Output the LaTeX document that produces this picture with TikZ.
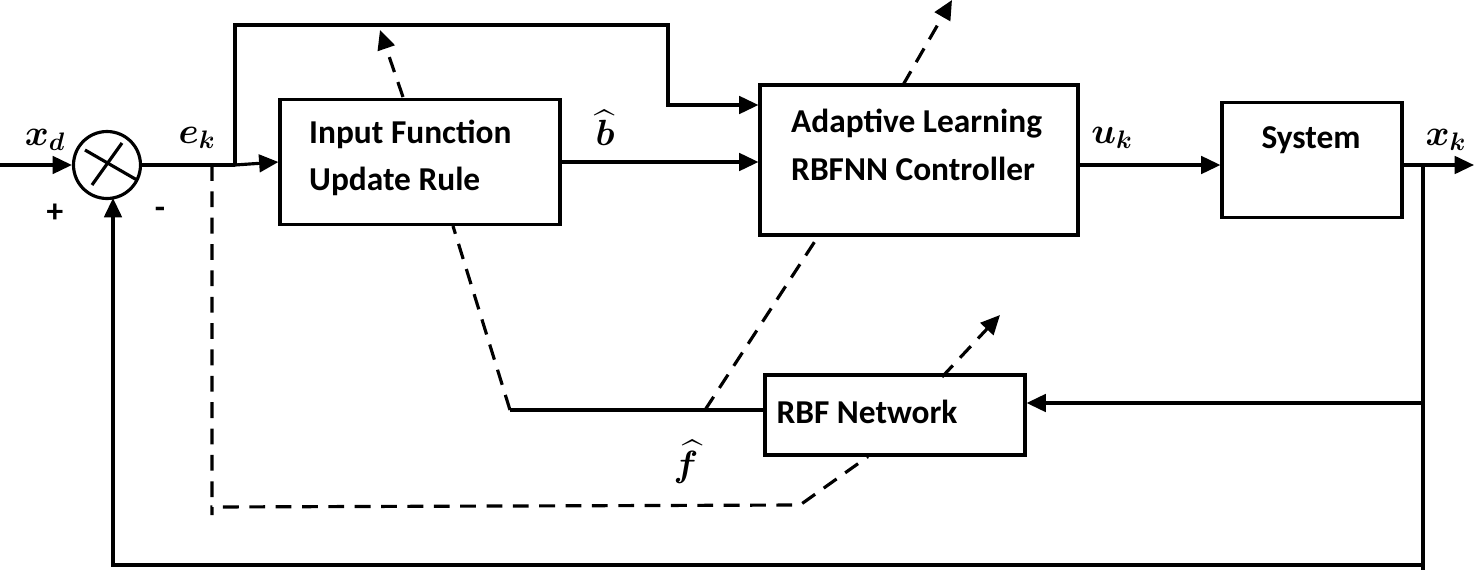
\documentclass[tikz,border=0pt]{standalone}
\usepackage{fontspec}
\usepackage{amsmath}
\setmainfont{Carlito}
\usetikzlibrary{arrows.meta}
\tikzset{
    block/.style={draw,line width=1.8pt,inner sep=0pt},
    sig/.style={line width=1.8pt,-{Triangle[length=11pt,width=10pt]}},
    wire/.style={line width=1.8pt},
    dwire/.style={line width=1.8pt,dash pattern=on 9pt off 6pt},
    darrow/.style={dwire,-{Triangle[length=11pt,width=10pt]}},
    lbl/.style={font=\bfseries\fontsize{19}{23}\selectfont},
    sym/.style={font=\fontsize{22}{26}\selectfont}
}
\begin{document}
\begin{tikzpicture}[x=0.02cm,y=-0.02cm]
    \useasboundingbox (0,0) rectangle (1474,578);
    % blocks
    \node[block,minimum width=5.6cm,minimum height=2.5cm] (ifu) at (420,162) {};
    \node[lbl,align=left,anchor=west] at (303,158) {Input Function\\[4pt]Update Rule};
    \node[block,minimum width=6.36cm,minimum height=3cm] (ctrl) at (919,160) {};
    \node[lbl,align=left,anchor=west] at (785,145) {Adaptive Learning\\[4pt]RBFNN Controller};
    \node[block,minimum width=3.6cm,minimum height=2.3cm] (sys) at (1312,160) {};
    \node[lbl] at (1311,140) {System};
    \node[block,minimum width=5.2cm,minimum height=1.6cm] (rbf) at (895,415) {};
    \node[lbl] at (867,412) {RBF Network};
    % summing junction
    \node[draw,circle,line width=1.8pt,minimum size=1.34cm,inner sep=0pt] (sum) at (107,165) {};
    \draw[wire] (sum.center) +(-22,-15) -- +(30,15);
    \draw[wire] (sum.center) +(15,-22) -- +(-15,20);
    % signals
    \coordinate (in) at (0,165);
    \coordinate (out) at (1474,165);
    \coordinate (tap) at (1423,165);
    \coordinate (br) at (235,165);
    \draw[sig] (in) -- (sum.west);
    \draw[wire] (sum.east) -- (br);
    \draw[sig] (br) -- (ifu.west);
    \draw[sig] (br) -- (235,25) -- (668,25) -- (668,105) -- (ctrl.west |- 0,105);
    \draw[sig] (ifu.east) -- (ctrl.west |- ifu.east);
    \draw[sig] (ctrl.east |- 0,165) -- (sys.west |- 0,165);
    \draw[sig] (sys.east |- 0,165) -- (out);
    \draw[wire] (tap) -- (1423,570);
    \draw[sig] (1423,565) -- (113,565) -- (113,198);
    \draw[sig] (1423,403) -- (rbf.east |- 0,403);
    \draw[wire] (rbf.west |- 0,410) -- (510,410);
    % adaptation paths
    \draw[dwire] (510,410) -- (ifu.south -| 453,0);
    \draw[dwire] (705,410) -- (ctrl.south -| 818,0);
    \draw[dwire] (212,165) -- (212,515) -- (212,507) -- (800,505) -- (rbf.south -| 868,0);
    \draw[darrow] (403,97) -- (380,30);
    \draw[darrow] (903,85) -- (952,0);
    \draw[darrow] (942,377) -- (1000,315);
    % labels
    \node[sym] at (45,140) {$\boldsymbol{x_d}$};
    \node[sym] at (197,138) {$\boldsymbol{e_k}$};
    \node[sym] at (605,128) {$\boldsymbol{\widehat{b}}$};
    \node[sym] at (1112,138) {$\boldsymbol{u_k}$};
    \node[sym] at (1446,140) {$\boldsymbol{x_k}$};
    \node[sym] at (686,462) {$\boldsymbol{\widehat{f}}$};
    \node[lbl] at (55,213) {+};
    \node[lbl] at (160,213) {-};
\end{tikzpicture}
\end{document}
